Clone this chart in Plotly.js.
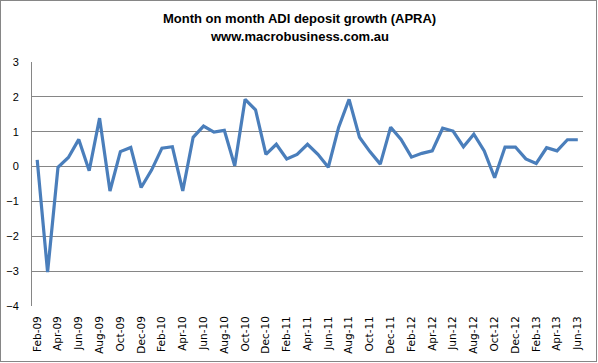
<!DOCTYPE html>
<html>
<head>
<meta charset="utf-8">
<script src="https://cdn.plot.ly/plotly-3.0.1.min.js"></script>
<style>
html,body{margin:0;padding:0;background:#fff;}
#wrap{position:relative;width:598px;height:363px;}
#chart{position:absolute;left:0;top:0;width:598px;height:363px;}
#frame{position:absolute;left:0;top:0;width:595px;height:360px;border:1px solid #868686;pointer-events:none;}
</style>
</head>
<body>
<div id="wrap"><div id="chart"></div><div id="frame"></div></div>
<script>
const months = [
 "Feb-09","Mar-09","Apr-09","May-09","Jun-09","Jul-09","Aug-09","Sep-09","Oct-09","Nov-09","Dec-09",
 "Jan-10","Feb-10","Mar-10","Apr-10","May-10","Jun-10","Jul-10","Aug-10","Sep-10","Oct-10","Nov-10","Dec-10",
 "Jan-11","Feb-11","Mar-11","Apr-11","May-11","Jun-11","Jul-11","Aug-11","Sep-11","Oct-11","Nov-11","Dec-11",
 "Jan-12","Feb-12","Mar-12","Apr-12","May-12","Jun-12","Jul-12","Aug-12","Sep-12","Oct-12","Nov-12","Dec-12",
 "Jan-13","Feb-13","Mar-13","Apr-13","May-13","Jun-13"
];
const growth = [
 0.19,-3.03,-0.02,0.26,0.78,-0.12,1.39,-0.70,0.43,0.55,-0.60,
 -0.10,0.53,0.57,-0.70,0.84,1.16,0.99,1.04,0.02,1.93,1.63,0.35,
 0.64,0.22,0.35,0.64,0.35,-0.02,1.13,1.93,0.84,0.43,0.07,1.13,
 0.78,0.27,0.38,0.45,1.10,1.02,0.57,0.93,0.45,-0.32,0.56,0.56,
 0.22,0.09,0.54,0.45,0.77,0.77
];
const tickLabels = ["Feb-09","Apr-09","Jun-09","Aug-09","Oct-09","Dec-09","Feb-10","Apr-10","Jun-10","Aug-10","Oct-10","Dec-10","Feb-11","Apr-11","Jun-11","Aug-11","Oct-11","Dec-11","Feb-12","Apr-12","Jun-12","Aug-12","Oct-12","Dec-12","Feb-13","Apr-13","Jun-13"];
const yTicks = [-4,-3,-2,-1,0,1,2,3];
const titleLines = ["Month on month ADI deposit growth (APRA)","www.macrobusiness.com.au"];

const trace = {
  x: months, y: growth, type: 'scatter', mode: 'lines',
  line: {color: '#4A7EBB', width: 3.2}, hoverinfo: 'skip'
};
const layout = {
  width: 598, height: 363,
  margin: {l: 32, r: 15, t: 62, b: 57},
  paper_bgcolor: '#fff', plot_bgcolor: '#fff',
  showlegend: false,
  xaxis: {
    type: 'category', tickvals: tickLabels, ticktext: tickLabels,
    tickangle: -90, showgrid: false, zeroline: false, showline: false,
    ticks: 'outside', ticklen: 5, tickcolor: 'rgba(0,0,0,0)',
    tickfont: {family: 'DejaVu Sans', size: 10.5, color: '#000'},
    range: [-0.5, months.length - 0.5], fixedrange: true
  },
  yaxis: {
    range: [-4, 3], tickvals: yTicks, showgrid: true, gridcolor: '#868686', gridwidth: 1,
    zeroline: false, showline: true, linecolor: '#868686', linewidth: 1,
    ticks: 'outside', ticklen: 10, tickcolor: 'rgba(0,0,0,0)',
    tickfont: {family: 'Liberation Sans', size: 11, color: '#000'}, fixedrange: true
  },
  annotations: [
    {text: '<b>' + titleLines[0] + '</b>', xref: 'paper', yref: 'paper', x: 0.485, y: (306-19)/244, xanchor: 'center', yanchor: 'middle', showarrow: false, font: {family: 'Liberation Sans', size: 13, color: '#000'}},
    {text: '<b>' + titleLines[1] + '</b>', xref: 'paper', yref: 'paper', x: 0.485, y: (306-37)/244, xanchor: 'center', yanchor: 'middle', showarrow: false, font: {family: 'Liberation Sans', size: 13, color: '#000'}}
  ]
};
Plotly.newPlot('chart', [trace], layout, {staticPlot: true, displayModeBar: false});
</script>
</body>
</html>
